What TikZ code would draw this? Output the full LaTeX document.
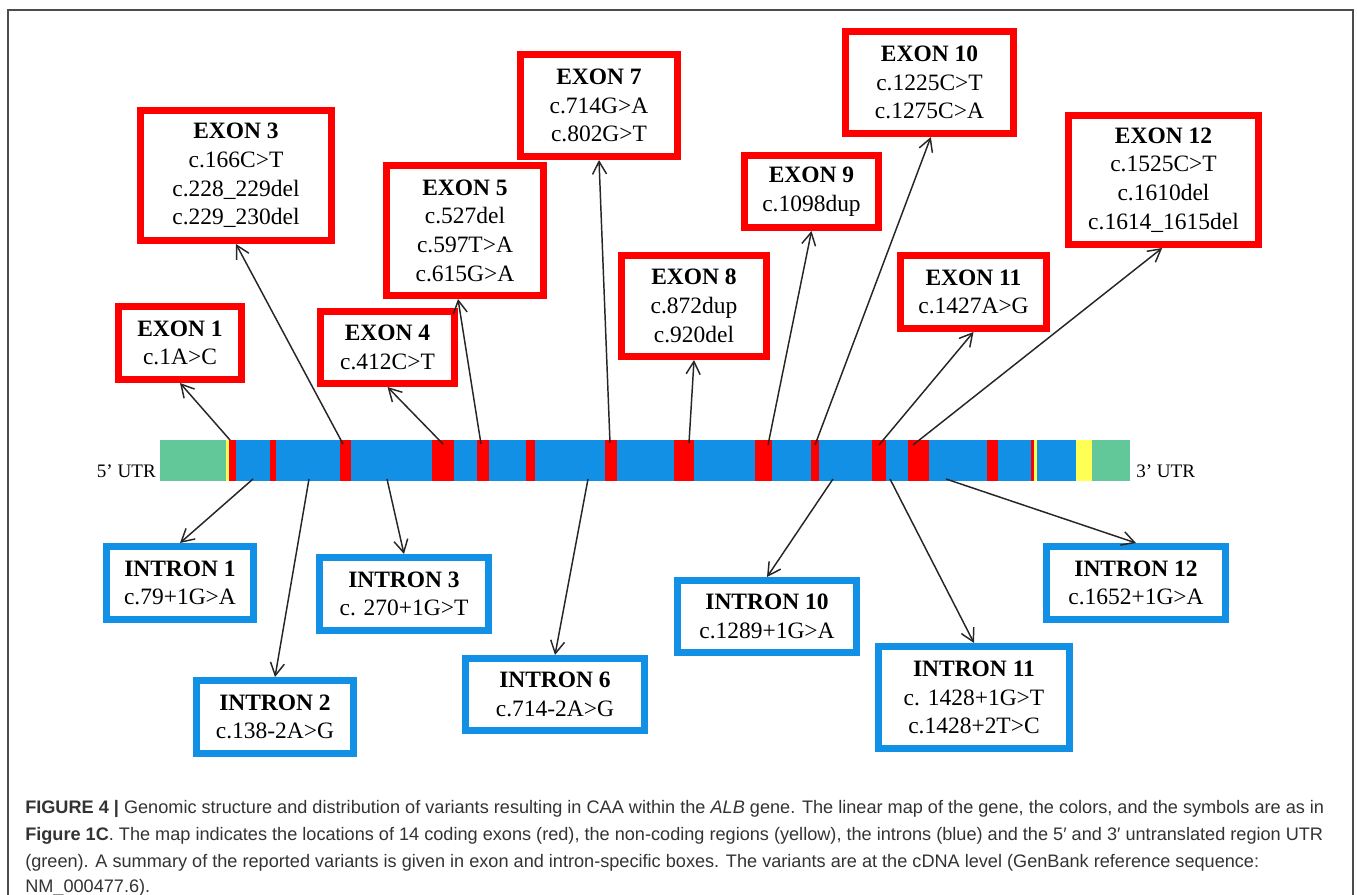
\documentclass[tikz,border=0pt]{standalone}
\usepackage{fontspec}
\setmainfont{Liberation Serif}
\newfontfamily\capfont{Liberation Sans}
\usetikzlibrary{arrows.meta}
\definecolor{gblue}{HTML}{1290E5}
\definecolor{gred}{HTML}{FF0000}
\definecolor{ggreen}{HTML}{62C899}
\definecolor{gyellow}{HTML}{FFFF55}
\definecolor{capcol}{HTML}{333333}
\begin{document}
\begin{tikzpicture}[x=0.75pt,y=-0.75pt,
  gbox/.style={draw, line width=5.25pt, inner sep=0pt, align=center,
    font=\fontsize{17.6}{21.5}\selectfont, fill=white},
  ebox/.style={gbox, draw=gred},
  ibox/.style={gbox, draw=gblue},
  sz/.style 2 args={minimum width=#1*0.75pt, minimum height=#2*0.75pt},
  con/.style={draw=black!85, line width=1.1pt, -{Straight Barb[length=9.5pt,width=10.5pt]}},
  seg/.style={draw=none},
  utr/.style={font=\fontsize{14.3}{16}\selectfont, inner sep=0pt},
  capl/.style={anchor=base west, inner sep=0pt, text=capcol, font=\capfont\fontsize{13.6}{16}\selectfont}
]
\useasboundingbox (0,0) rectangle (1357,895);
\fill[white] (0,0) rectangle (1357,895);
% frame
\draw[black!70, line width=1.3pt] (8,895) -- (8,10) -- (1353,10) -- (1353,895);

% gene bar
\fill[gblue] (160,440) rectangle (1130,481);
\fill[ggreen] (160,440) rectangle (226,481);
\fill[gyellow] (226,440) rectangle (229,481);
\foreach \a/\b in {229/236,270/276,340/351,432/454,477/489,526/535,605/617,674/694,755/772,811/819,872/886,908/929,987/998,1031/1034}
  \fill[gred] (\a,440) rectangle (\b,481);
\fill[gyellow] (1034,440) rectangle (1036.5,481);
\fill[gyellow] (1076,440) rectangle (1092,481);
\fill[ggreen] (1092,440) rectangle (1130,481);

\node[utr, anchor=base east] (u5) at (156,477) {5’ UTR};
\node[utr, anchor=base west] (u3) at (1136,477) {3’ UTR};

% arrow origins
\coordinate (a1) at (230,440);
\coordinate (a3) at (343,444);
\coordinate (a4) at (443,444);
\coordinate (a5) at (481,444);
\coordinate (a7) at (610,443);
\coordinate (a8) at (689,443);
\coordinate (a9) at (768,445);
\coordinate (a10) at (815,445);
\coordinate (a11) at (879,445);
\coordinate (a12) at (913,445);
\coordinate (b1) at (253,479);
\coordinate (b2) at (309,479);
\coordinate (b3) at (387,479);
\coordinate (b6) at (588,479);
\coordinate (b10) at (833,479);
\coordinate (b11) at (890,479);
\coordinate (b12) at (946,479);

% exon boxes
\node[ebox, sz={123}{73}] (e1) at (180,343) {\textbf{EXON 1}\\c.1A>C};
\node[ebox, sz={191}{130}] (e3) at (236,175.5) {\textbf{EXON 3}\\c.166C>T\\c.228\_229del\\c.229\_230del};
\node[ebox, sz={134}{72}] (e4) at (387.5,347.5) {\textbf{EXON 4}\\c.412C>T};
\node[ebox, sz={157}{130}] (e5) at (465,230.5) {\textbf{EXON 5}\\c.527del\\c.597T>A\\c.615G>A};
\node[ebox, sz={157}{102}] (e7) at (599,105.5) {\textbf{EXON 7}\\c.714G>A\\c.802G>T};
\node[ebox, sz={145}{101}] (e8) at (694,306) {\textbf{EXON 8}\\c.872dup\\c.920del};
\node[ebox, sz={134}{72}] (e9) at (811.5,191.5) {\textbf{EXON 9}\\c.1098dup};
\node[ebox, sz={168}{102}] (e10) at (929.5,82.5) {\textbf{EXON 10}\\c.1225C>T\\c.1275C>A};
\node[ebox, sz={146}{73}] (e11) at (973.5,292) {\textbf{EXON 11}\\c.1427A>G};
\node[ebox, sz={190}{129}] (e12) at (1163.5,180) {\textbf{EXON 12}\\c.1525C>T\\c.1610del\\c.1614\_1615del};

% intron boxes
\node[ibox, sz={147}{73}] (i1) at (180,583) {\textbf{INTRON 1}\\c.79+1G>A};
\node[ibox, sz={157}{73}] (i2) at (275,717) {\textbf{INTRON 2}\\c.138-2A>G};
\node[ibox, sz={169}{73}] (i3) at (404,594) {\textbf{INTRON 3}\\c. 270+1G>T};
\node[ibox, sz={179}{72}] (i6) at (555,694.5) {\textbf{INTRON 6}\\c.714-2A>G};
\node[ibox, sz={179}{72}] (i10) at (767,616.5) {\textbf{INTRON 10}\\c.1289+1G>A};
\node[ibox, sz={191}{102}] (i11) at (974,697.5) {\textbf{INTRON 11}\\c. 1428+1G>T\\c.1428+2T>C};
\node[ibox, sz={179}{73}] (i12) at (1136,583) {\textbf{INTRON 12}\\c.1652+1G>A};

% connectors
\draw[con] (a1) -- (e1.south);
\draw[con] (a3) -- (e3.south);
\draw[con] (a4) -- (e4.south);
\draw[con] (a5) -- ([xshift=-5.25pt]e5.south);
\draw[con] (a7) -- (e7.south);
\draw[con] (a8) -- (e8.south);
\draw[con] (a9) -- (e9.south);
\draw[con] (a10) -- ([xshift=1pt]e10.south);
\draw[con] (a11) -- (e11.south);
\draw[con] (a12) -- ([xshift=-1pt]e12.south);
\draw[con] (b1) -- (i1.north);
\draw[con] (b2) -- (i2.north);
\draw[con] (b3) -- (i3.north);
\draw[con] (b6) -- (i6.north);
\draw[con] (b10) -- (i10.north);
\draw[con] (b11) -- (i11.north);
\draw[con] (b12) -- (i12.north);

% caption
\node[capl] (c1) at (25,813) {\textbf{FIGURE 4 |} Genomic structure and distribution of variants resulting in CAA within the \textit{ALB} gene. The linear map of the gene, the colors, and the symbols are as in};
\node[capl] (c2) at (25,840) {\textbf{Figure 1C}. The map indicates the locations of 14 coding exons (red), the non-coding regions (yellow), the introns (blue) and the 5′ and 3′ untranslated region UTR};
\node[capl] (c3) at (25,867) {(green). A summary of the reported variants is given in exon and intron-specific boxes. The variants are at the cDNA level (GenBank reference sequence:};
\node[capl] (c4) at (25,892) {NM\_000477.6).};
\end{tikzpicture}
\end{document}
